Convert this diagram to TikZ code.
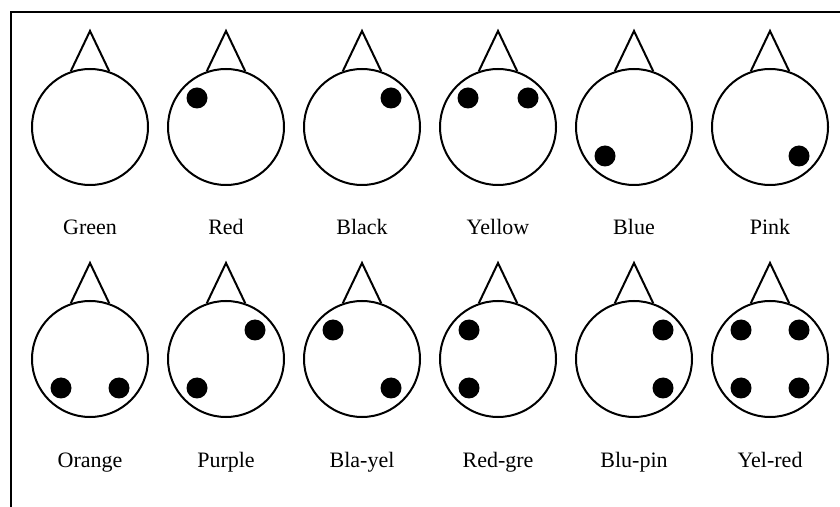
\documentclass[tikz,border=0pt]{standalone}
\usepackage{fontspec}
\setmainfont{Liberation Serif}
\usepackage{tikz}
\usetikzlibrary{positioning}

\tikzset{
  head/.style={circle,draw,line width=1pt,inner sep=0pt,minimum size=58pt},
  spot/.style={circle,fill=black,inner sep=0pt,minimum size=10.5pt},
  tag/.style={anchor=base,font=\fontsize{11}{12}\selectfont}
}

\begin{document}
\begin{tikzpicture}[x=0.5pt,y=-0.5pt]
\useasboundingbox (0,0) rectangle (840,507);
\draw[line width=1pt] (11,507) -- (11,12) -- (840,12);

\foreach\n/\cx/\cy/\lab in {1/90/127/Green,2/226/127/Red,3/362/127/Black,4/498/127/Yellow,5/634/127/Blue,6/770/127/Pink,
  7/90/359/Orange,8/226/359/Purple,9/362/359/Bla-yel,10/498/359/Red-gre,11/634/359/Blu-pin,12/770/359/Yel-red}
{
\node[head] (h\n) at (\cx,\cy) {};
\coordinate (t\n) at (\cx,\cy-96);
\draw[line width=1pt] (h\n.109) -- (t\n) -- (h\n.71);
\node[tag] (l\n) at (\cx,\cy+108) {\lab};
}

\foreach\n/\dx/\dy in {2/-29/-29,3/29/-29,4/-30/-29,4/30/-29,5/-29/29,6/29/29,
  7/-29/29,7/29/29,8/29/-29,8/-29/29,9/-29/-29,9/29/29,10/-29/-29,10/-29/29,
  11/29/-29,11/29/29,12/-29/-29,12/29/-29,12/-29/29,12/29/29}
\node[spot] at ([shift={(\dx,\dy)}]h\n) {};
\end{tikzpicture}
\end{document}
